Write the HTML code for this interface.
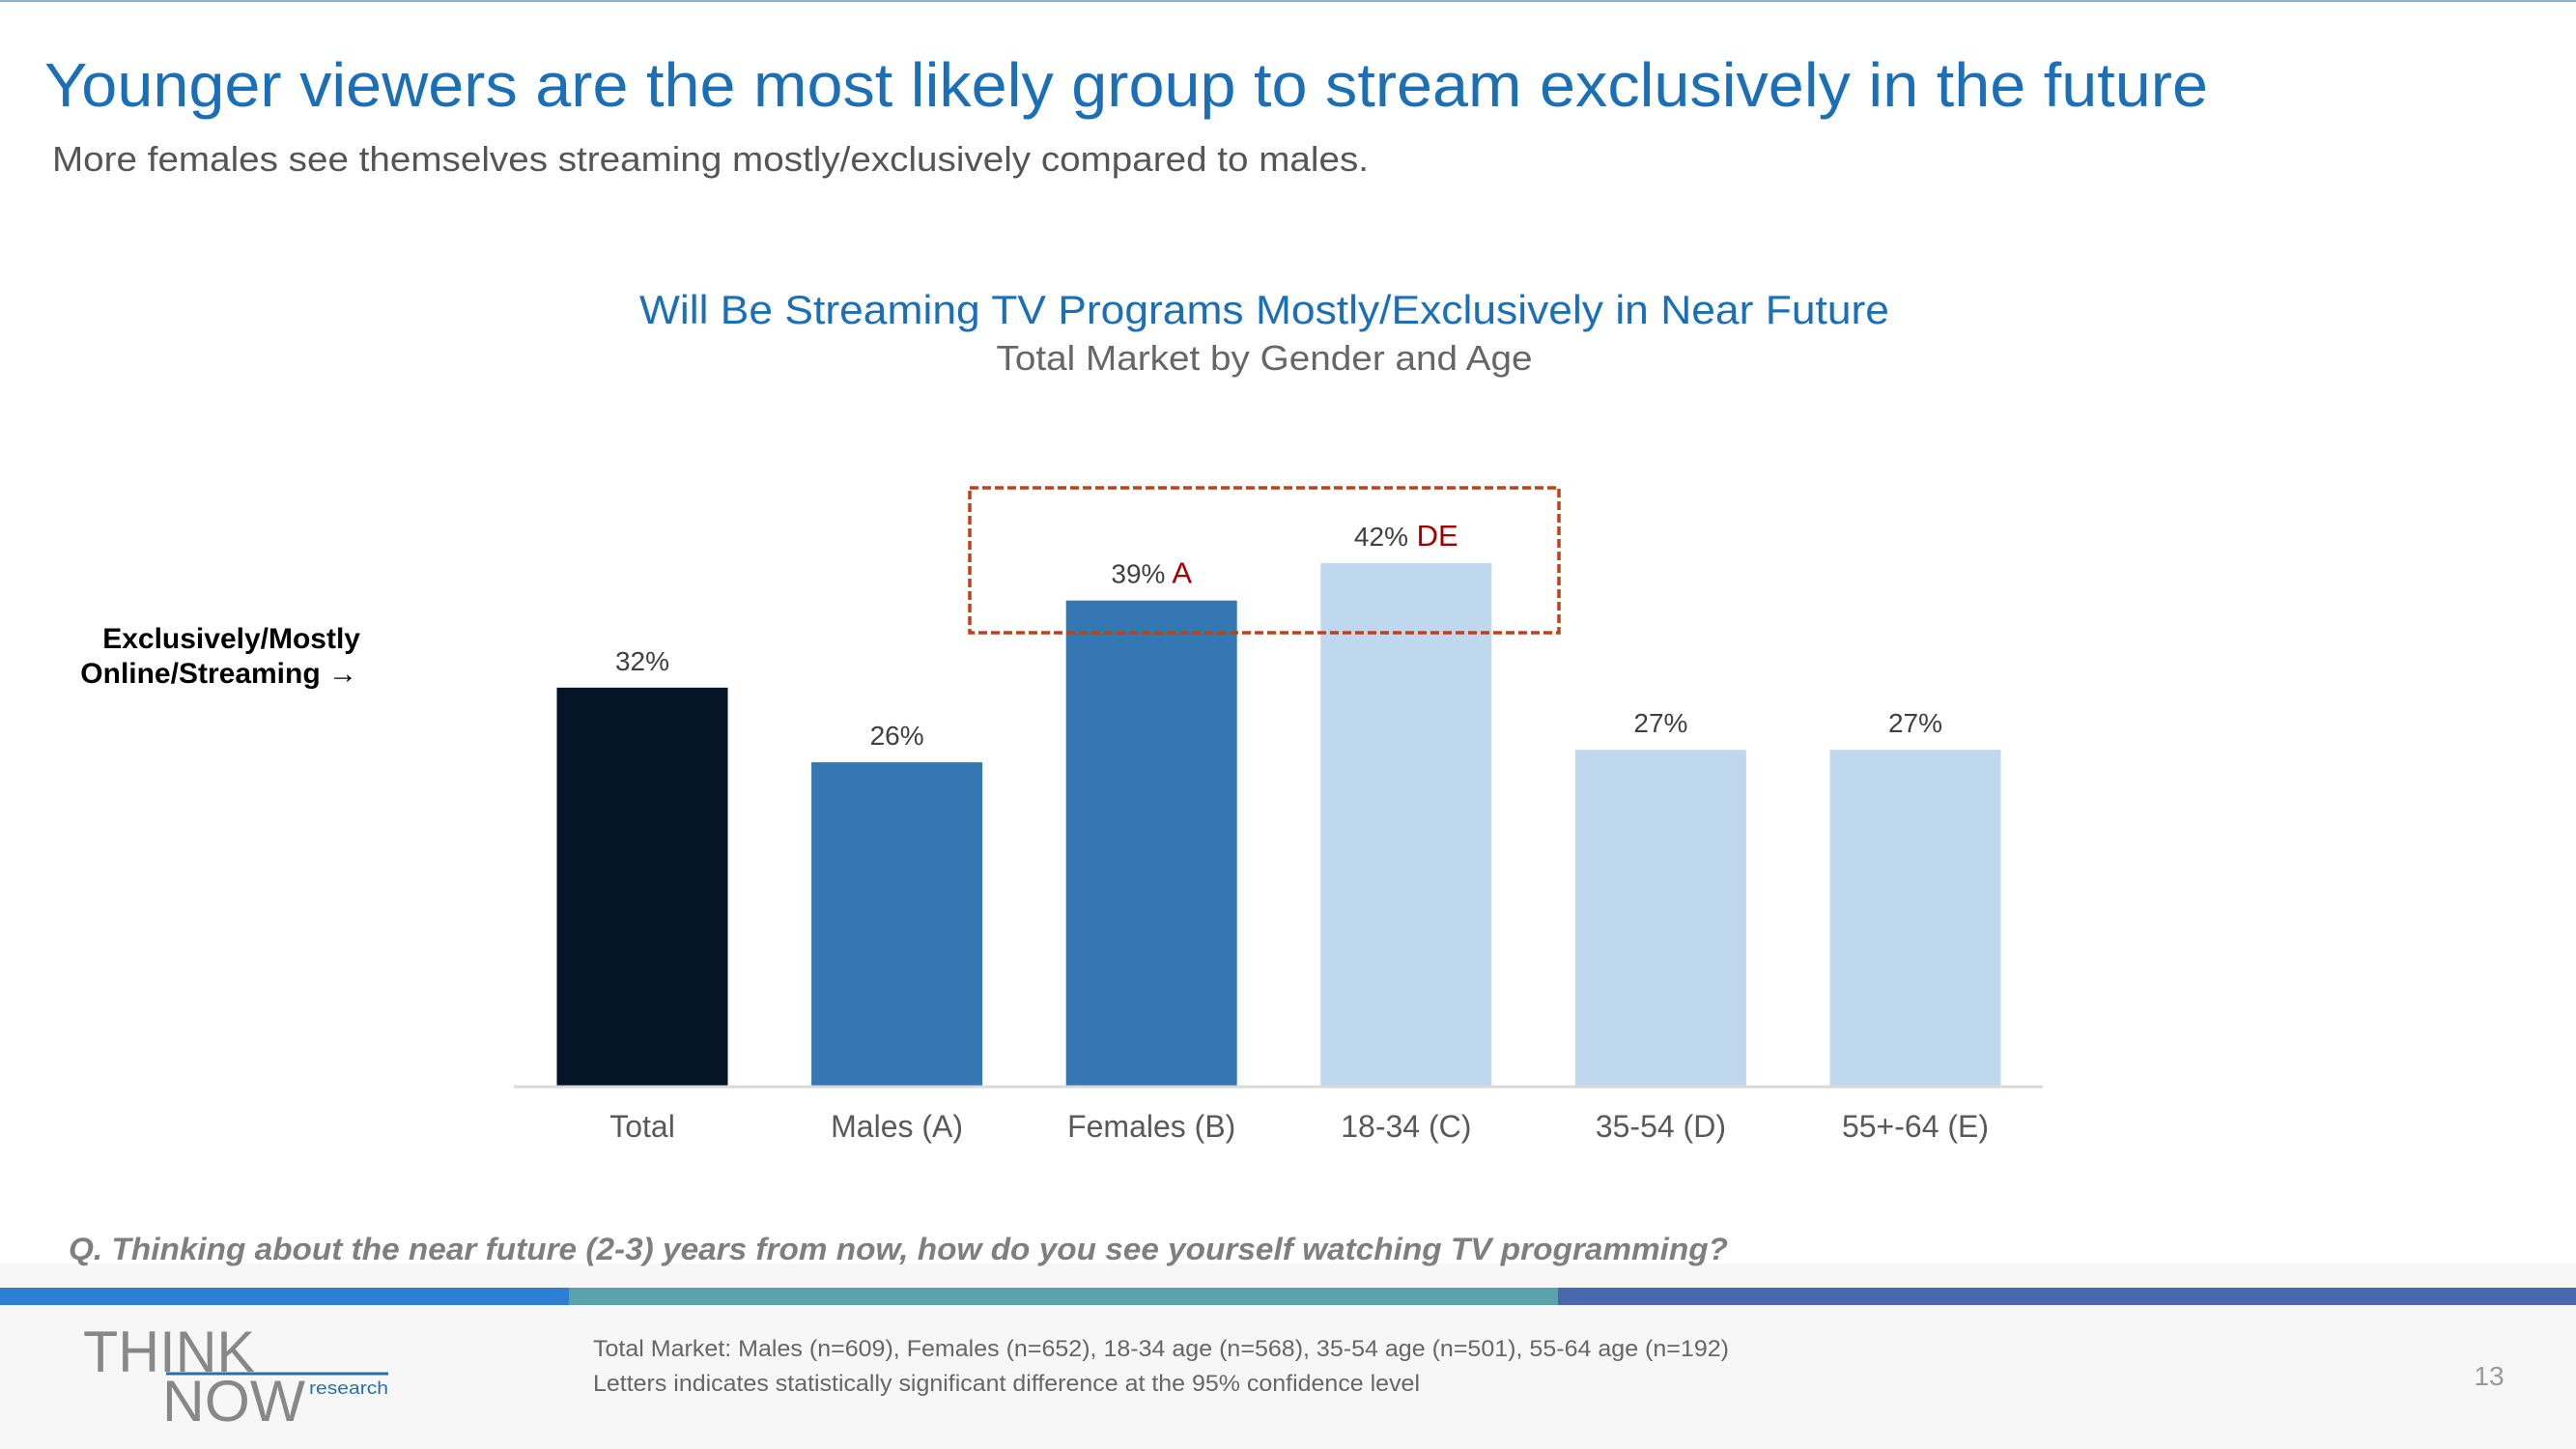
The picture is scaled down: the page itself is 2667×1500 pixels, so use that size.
<!DOCTYPE html>
<html><head><meta charset="utf-8"><style>
html,body{margin:0;padding:0;background:#fff}
svg{display:block;font-family:"Liberation Sans",Arial,sans-serif}
</style></head><body>
<svg id="chart" width="2667" height="1500" viewBox="0 0 2667 1500" xmlns="http://www.w3.org/2000/svg">
<rect x="0" y="0" width="2667" height="2" fill="#8fb3c8"/>
<rect x="0" y="1308" width="2667" height="192" fill="#f7f7f7"/>
<text x="46" y="110" font-size="64" fill="#1a6fb7" textLength="2240" lengthAdjust="spacingAndGlyphs">Younger viewers are the most likely group to stream exclusively in the future</text>
<text x="54" y="177" font-size="36" fill="#555" textLength="1363" lengthAdjust="spacingAndGlyphs">More females see themselves streaming mostly/exclusively compared to males.</text>
<text x="1309" y="335" font-size="42" fill="#1a6fb7" text-anchor="middle" textLength="1294" lengthAdjust="spacingAndGlyphs">Will Be Streaming TV Programs Mostly/Exclusively in Near Future</text>
<text x="1309" y="383" font-size="36" fill="#666" text-anchor="middle" textLength="555" lengthAdjust="spacingAndGlyphs">Total Market by Gender and Age</text>
<text font-size="30" font-weight="bold" fill="#000" text-anchor="end"><tspan x="373" y="671">Exclusively/Mostly</tspan><tspan x="370" y="707">Online/Streaming →</tspan></text>
<g id="bars"></g>
<line x1="532" y1="1125" x2="2115" y2="1125" stroke="#d9d9d9" stroke-width="3"/>
<rect x="1004" y="505" width="610" height="150" fill="none" stroke="#c0401a" stroke-width="3.5" stroke-dasharray="9,4"/>
<text x="71" y="1304" font-size="32" font-weight="bold" font-style="italic" fill="#7f7f7f" textLength="1718" lengthAdjust="spacingAndGlyphs">Q. Thinking about the near future (2-3) years from now, how do you see yourself watching TV programming?</text>
<rect x="0" y="1333" width="589" height="18" fill="#2b7fd4"/>
<rect x="589" y="1333" width="1024" height="18" fill="#5aa3ab"/>
<rect x="1613" y="1333" width="1054" height="18" fill="#4a68ad"/>
<g>
<text x="86" y="1420" font-size="60" fill="#888" textLength="178" lengthAdjust="spacingAndGlyphs">THINK</text>
<line x1="172" y1="1422" x2="402" y2="1422" stroke="#2a6fa8" stroke-width="3"/>
<text x="168" y="1471" font-size="60" fill="#888" textLength="148" lengthAdjust="spacingAndGlyphs">NOW</text>
<text x="320" y="1443" font-size="18" fill="#2a6fa8" textLength="82" lengthAdjust="spacingAndGlyphs">research</text>
</g>
<text x="614" y="1404" font-size="24" fill="#666" textLength="1176" lengthAdjust="spacingAndGlyphs">Total Market: Males (n=609), Females (n=652), 18-34 age (n=568), 35-54 age (n=501), 55-64 age (n=192)</text>
<text x="614" y="1440" font-size="24" fill="#666" textLength="856" lengthAdjust="spacingAndGlyphs">Letters indicates statistically significant difference at the 95% confidence level</text>
<text x="2577" y="1434" font-size="28" fill="#999" text-anchor="middle">13</text>
</svg>
<script>
const categories = ["Total","Males (A)","Females (B)","18-34 (C)","35-54 (D)","55+-64 (E)"];
const values = [32,26,39,42,27,27];
const sigLetters = ["","","A","DE","",""];
const colors = ["#061428","#3577b3","#3577b3","#c0d8ed","#c0d8ed","#c0d8ed"];
const baseY = 1124, pxPerPct = 12.88, x0 = 665, step = 263.6, bw = 177;
const yScale = v => baseY - v * pxPerPct;
const xScale = i => x0 + i * step;
const NS = "http://www.w3.org/2000/svg";
const g = document.getElementById('bars');
categories.forEach((c, i) => {
  const cx = xScale(i), top = yScale(values[i]);
  const r = document.createElementNS(NS, 'rect');
  
  
  r.setAttribute('x', cx - bw / 2); r.setAttribute('y', top);
  r.setAttribute('width', bw); r.setAttribute('height', baseY - top);
  r.setAttribute('fill', colors[i]);
  g.appendChild(r);
  const t = document.createElementNS(NS, 'text');
  
  
  t.setAttribute('x', cx); t.setAttribute('y', top - 18);
  t.setAttribute('font-size', '28'); t.setAttribute('fill', '#404040');
  t.setAttribute('text-anchor', 'middle');
  t.textContent = values[i] + '%';
  if (sigLetters[i]) {
    const s = document.createElementNS(NS, 'tspan');
    s.setAttribute('fill', '#a00000'); s.setAttribute('font-size', '31');
    s.textContent = ' ' + sigLetters[i];
    t.appendChild(s);
  }
  g.appendChild(t);
  const l = document.createElementNS(NS, 'text');
  
  
  l.setAttribute('x', cx); l.setAttribute('y', 1177);
  l.setAttribute('font-size', '32'); l.setAttribute('fill', '#595959');
  l.setAttribute('text-anchor', 'middle');
  l.textContent = c;
  g.appendChild(l);
});
</script>
</body></html>
